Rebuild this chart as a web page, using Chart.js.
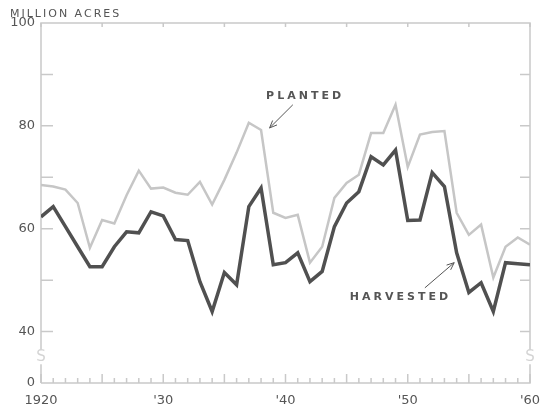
<!DOCTYPE html>
<html>
<head>
<meta charset="utf-8">
<script src="https://cdn.jsdelivr.net/npm/chart.js@4/dist/chart.umd.min.js"></script>
<style>
  html, body { margin: 0; padding: 0; background: #fff; }
  #wrap { width: 542px; height: 410px; }
</style>
</head>
<body>
<div id="wrap"><canvas id="chart" width="542" height="410"></canvas></div>
<script>
// years 1920 .. 1960
const years = [
  1920, 1921, 1922, 1923, 1924, 1925, 1926, 1927, 1928, 1929,
  1930, 1931, 1932, 1933, 1934, 1935, 1936, 1937, 1938, 1939,
  1940, 1941, 1942, 1943, 1944, 1945, 1946, 1947, 1948, 1949,
  1950, 1951, 1952, 1953, 1954, 1955, 1956, 1957, 1958, 1959,
  1960
];

// million acres
const planted = [
  68.5, 68.2, 67.6, 65.0, 56.3, 61.7, 61.0, 66.5, 71.3, 67.8,
  68.0, 67.0, 66.6, 69.1, 64.7, 69.5, 74.8, 80.6, 79.2, 63.1,
  62.1, 62.7, 53.4, 56.5, 66.0, 68.9, 70.5, 78.6, 78.6, 84.1,
  72.0, 78.3, 78.8, 79.0, 63.1, 58.8, 60.8, 50.5, 56.5, 58.3,
  56.9
];
const harvested = [
  62.3, 64.3, 60.4, 56.5, 52.6, 52.6, 56.5, 59.4, 59.2, 63.3,
  62.5, 57.9, 57.7, 49.7, 43.9, 51.5, 49.1, 64.3, 67.9, 53.0,
  53.4, 55.3, 49.7, 51.7, 60.4, 65.0, 67.2, 74.0, 72.4, 75.3,
  61.6, 61.7, 70.9, 68.2, 55.3, 47.6, 49.5, 43.9, 53.4, 53.2,
  53.0
];

// axis labels
const xLabelYears = [1920, 1930, 1940, 1950, 1960];
const xLabelTexts = ['1920', "'30", "'40", "'50", "'60"];
const yTickValues = [0, 40, 60, 80, 100];
const yTickLabels = ['0', '40', '60', '80', '100'];
// the axis is broken between 0 and 40: zero is drawn where 30 would be
const breakFloor = 30;
const yPos = v => (v === 0 ? breakFloor : v);

const frameColor = '#c9c9c9';
const textColor = '#555';

const toPoints = arr => arr.map((v, i) => ({ x: years[i], y: v }));

const framePlugin = {
  id: 'frame',
  beforeDatasetsDraw(chart) {
    const { ctx, chartArea: a, scales: { x, y } } = chart;
    ctx.save();
    ctx.strokeStyle = frameColor;
    ctx.lineWidth = 1.5;
    ctx.beginPath();
    ctx.moveTo(a.left, a.bottom);
    ctx.lineTo(a.left, a.top);
    ctx.lineTo(a.right, a.top);
    ctx.lineTo(a.right, a.bottom);
    ctx.lineTo(a.left, a.bottom);
    ctx.stroke();

    // year ticks on the bottom axis, small ticks on top every 5 years
    ctx.beginPath();
    for (let yr = years[0]; yr <= years[years.length - 1]; yr++) {
      const px = x.getPixelForValue(yr);
      const len = yr % 5 === 0 ? 9 : 5;
      ctx.moveTo(px, a.bottom);
      ctx.lineTo(px, a.bottom - len);
      if (yr % 5 === 0) {
        ctx.moveTo(px, a.top);
        ctx.lineTo(px, a.top + 4);
      }
    }
    // inside ticks on left and right every 10
    for (let v = 40; v < 100; v += 10) {
      const py = y.getPixelForValue(v);
      ctx.moveTo(a.left, py);
      ctx.lineTo(a.left + 12, py);
      ctx.moveTo(a.right, py);
      ctx.lineTo(a.right - 10, py);
    }
    ctx.stroke();

    // break marks
    ctx.fillStyle = '#fff';
    const by = y.getPixelForValue(35);
    ctx.fillRect(a.left - 3, by - 7, 6, 14);
    ctx.fillRect(a.right - 3, by - 7, 6, 14);
    ctx.fillStyle = '#d4d4d4';
    ctx.font = '15px "DejaVu Sans"';
    ctx.textAlign = 'center';
    ctx.textBaseline = 'middle';
    ctx.fillText('S', a.left, by);
    ctx.fillText('S', a.right, by);
    ctx.restore();
  },
  afterDatasetsDraw(chart) {
    const { ctx, scales: { x, y } } = chart;
    ctx.save();
    ctx.fillStyle = textColor;
    ctx.strokeStyle = textColor;
    ctx.textBaseline = 'middle';

    ctx.font = '11px "DejaVu Sans"';
    ctx.letterSpacing = '2px';
    ctx.textAlign = 'left';
    ctx.fillText('MILLION ACRES', 10, 14);

    ctx.font = 'bold 11px "DejaVu Sans"';
    ctx.letterSpacing = '3px';
    ctx.textAlign = 'center';
    ctx.fillText('PLANTED', x.getPixelForValue(1941.6), y.getPixelForValue(85.8));
    ctx.fillText('HARVESTED', x.getPixelForValue(1949.4), y.getPixelForValue(46.6));

    const arrow = (x0, y0, x1, y1) => {
      const p0 = [x.getPixelForValue(x0), y.getPixelForValue(y0)];
      const p1 = [x.getPixelForValue(x1), y.getPixelForValue(y1)];
      const ang = Math.atan2(p1[1] - p0[1], p1[0] - p0[0]);
      ctx.lineWidth = 1;
      ctx.beginPath();
      ctx.moveTo(p0[0], p0[1]);
      ctx.lineTo(p1[0], p1[1]);
      ctx.moveTo(p1[0] - 8 * Math.cos(ang - 0.4), p1[1] - 8 * Math.sin(ang - 0.4));
      ctx.lineTo(p1[0], p1[1]);
      ctx.lineTo(p1[0] - 8 * Math.cos(ang + 0.4), p1[1] - 8 * Math.sin(ang + 0.4));
      ctx.stroke();
    };
    arrow(1940.6, 84.1, 1938.7, 79.6);
    arrow(1951.4, 48.5, 1953.8, 53.4);
    ctx.restore();
  }
};

new Chart(document.getElementById('chart'), {
  type: 'line',
  data: {
    datasets: [
      {
        label: 'Planted',
        data: toPoints(planted),
        borderColor: '#c6c6c6',
        borderWidth: 2.5,
        pointRadius: 0,
        tension: 0
      },
      {
        label: 'Harvested',
        data: toPoints(harvested),
        borderColor: '#505050',
        borderWidth: 3.5,
        pointRadius: 0,
        tension: 0
      }
    ]
  },
  options: {
    responsive: false,
    animation: false,
    layout: { padding: { top: 23, right: 12, left: 0, bottom: 0 } },
    plugins: {
      legend: { display: false },
      tooltip: { enabled: false }
    },
    scales: {
      x: {
        type: 'linear',
        min: years[0],
        max: years[years.length - 1],
        afterBuildTicks: s => { s.ticks = xLabelYears.map(v => ({ value: v })); },
        afterFit: s => { s.height = 27; s.paddingLeft = 0; s.paddingRight = 0; },
        grid: { display: false, drawTicks: false },
        border: { display: false },
        ticks: {
          padding: 10,
          maxRotation: 0,
          autoSkip: false,
          color: textColor,
          font: { family: 'DejaVu Sans', size: 13 },
          callback: v => xLabelTexts[xLabelYears.indexOf(v)]
        }
      },
      y: {
        type: 'linear',
        min: breakFloor,
        max: 100,
        afterBuildTicks: s => { s.ticks = yTickValues.map(v => ({ value: yPos(v) })); },
        afterFit: s => { s.width = 41; s.paddingTop = 0; s.paddingBottom = 0; },
        grid: { display: false, drawTicks: false },
        border: { display: false },
        ticks: {
          padding: 6,
          color: textColor,
          font: { family: 'DejaVu Sans', size: 13 },
          callback: v => yTickLabels[yTickValues.map(yPos).indexOf(v)]
        }
      }
    }
  },
  plugins: [framePlugin]
});
</script>
</body>
</html>
